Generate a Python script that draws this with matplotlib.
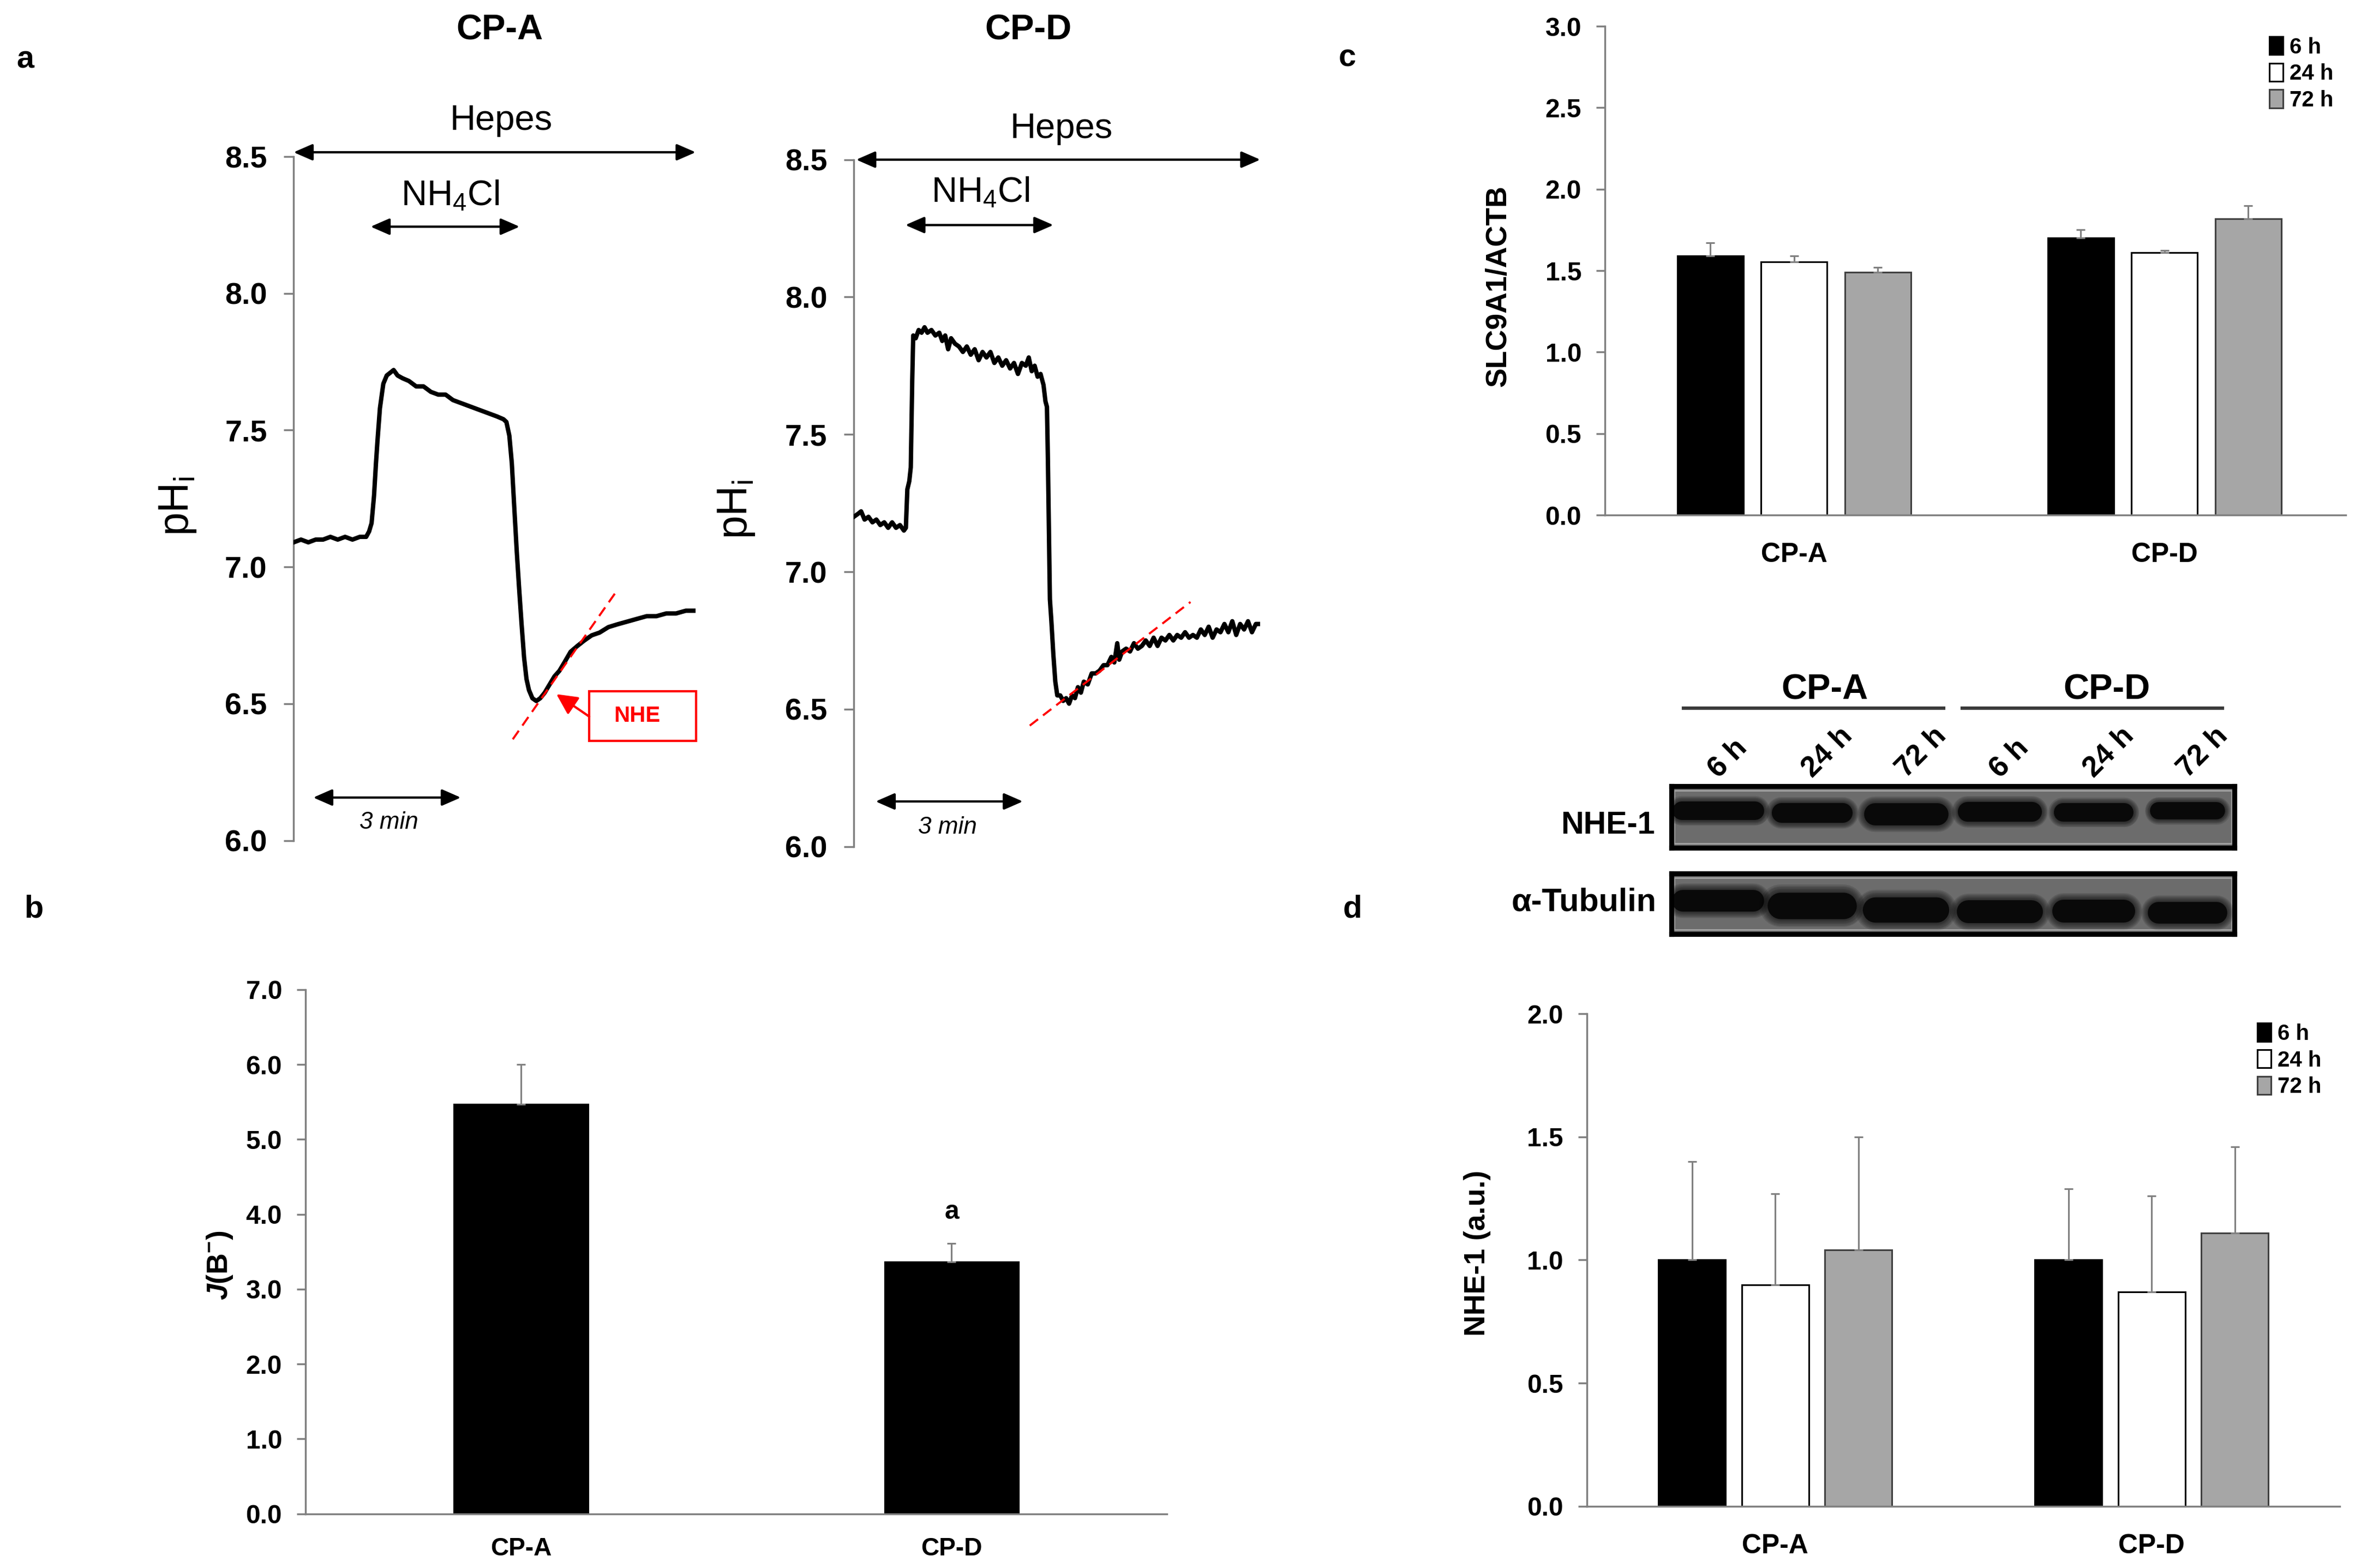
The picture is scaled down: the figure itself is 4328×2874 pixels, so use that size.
import numpy as np
import matplotlib
matplotlib.use('Agg')
import matplotlib.pyplot as plt
from matplotlib.patches import Rectangle
from matplotlib.lines import Line2D

plt.rcParams['font.family'] = ['Liberation Sans', 'DejaVu Sans']
plt.rcParams['mathtext.fontset'] = 'custom'
plt.rcParams['mathtext.rm'] = 'Liberation Sans'
plt.rcParams['mathtext.it'] = 'Liberation Sans:italic:bold'
plt.rcParams['mathtext.bf'] = 'Liberation Sans:bold'

# ---- panel a: pHi traces (time in min) ----
cpa_t = [0.00, 0.15, 0.30, 0.45, 0.60, 0.75, 0.90, 1.05, 1.20, 1.35,
         1.48, 1.54, 1.59, 1.64, 1.68, 1.71, 1.76, 1.83, 1.90, 1.97,
         2.04, 2.12, 2.22, 2.35, 2.50, 2.65, 2.80, 2.95, 3.10, 3.25,
         3.40, 3.55, 3.70, 3.85, 4.00, 4.15, 4.28, 4.34, 4.40, 4.45,
         4.50, 4.55, 4.60, 4.65, 4.70, 4.75, 4.80, 4.87, 4.95, 5.03,
         5.12, 5.22, 5.32, 5.42, 5.52, 5.65, 5.78, 5.92, 6.08, 6.24,
         6.42, 6.60, 6.80, 7.00, 7.20, 7.40, 7.60, 7.80, 8.00, 8.20]
cpa_ph = [7.09, 7.10, 7.09, 7.10, 7.10, 7.11, 7.10, 7.11, 7.10, 7.11,
          7.11, 7.13, 7.16, 7.26, 7.38, 7.46, 7.58, 7.67, 7.70, 7.71,
          7.72, 7.70, 7.69, 7.68, 7.66, 7.66, 7.64, 7.63, 7.63, 7.61,
          7.60, 7.59, 7.58, 7.57, 7.56, 7.55, 7.54, 7.53, 7.48, 7.38,
          7.22, 7.06, 6.92, 6.79, 6.67, 6.59, 6.55, 6.52, 6.51, 6.52,
          6.54, 6.57, 6.60, 6.62, 6.65, 6.69, 6.71, 6.73, 6.75, 6.76,
          6.78, 6.79, 6.80, 6.81, 6.82, 6.82, 6.83, 6.83, 6.84, 6.84]
cpa_fit_t = [4.47, 6.62]
cpa_fit_ph = [6.37, 6.92]

cpd_t = [0.00, 0.08, 0.15, 0.22, 0.30, 0.38, 0.46, 0.54, 0.62, 0.70,
         0.78, 0.86, 0.94, 1.02, 1.06, 1.09, 1.13, 1.16, 1.19, 1.21,
         1.26, 1.32, 1.38, 1.44, 1.50, 1.58, 1.66, 1.74, 1.80, 1.86,
         1.92, 1.98, 2.06, 2.14, 2.22, 2.30, 2.38, 2.46, 2.54, 2.62,
         2.70, 2.78, 2.86, 2.94, 3.02, 3.10, 3.18, 3.26, 3.34, 3.42,
         3.50, 3.56, 3.62, 3.68, 3.74, 3.80, 3.86, 3.90, 3.93, 3.95,
         3.97, 3.99, 4.02, 4.06, 4.10, 4.14, 4.20, 4.26, 4.32, 4.38,
         4.44, 4.50, 4.56, 4.62, 4.68, 4.76, 4.84, 4.92, 5.00, 5.08,
         5.16, 5.24, 5.30, 5.36, 5.40, 5.46, 5.54, 5.62, 5.70, 5.78,
         5.86, 5.94, 6.02, 6.10, 6.18, 6.26, 6.34, 6.42, 6.50, 6.58,
         6.66, 6.74, 6.82, 6.90, 6.98, 7.06, 7.14, 7.22, 7.30, 7.38,
         7.46, 7.54, 7.62, 7.70, 7.78, 7.86, 7.94, 8.02, 8.10, 8.18,
         8.27]
cpd_ph = [7.20, 7.21, 7.22, 7.19, 7.20, 7.18, 7.19, 7.17, 7.18, 7.16,
          7.18, 7.16, 7.17, 7.15, 7.16, 7.30, 7.33, 7.38, 7.70, 7.86,
          7.85, 7.88, 7.87, 7.89, 7.87, 7.88, 7.86, 7.87, 7.84, 7.86,
          7.81, 7.85, 7.83, 7.82, 7.80, 7.82, 7.79, 7.81, 7.77, 7.80,
          7.78, 7.80, 7.76, 7.78, 7.75, 7.77, 7.74, 7.76, 7.72, 7.76,
          7.75, 7.78, 7.73, 7.75, 7.71, 7.72, 7.68, 7.62, 7.60, 7.40,
          7.15, 6.90, 6.82, 6.70, 6.60, 6.55, 6.55, 6.53, 6.54, 6.52,
          6.55, 6.54, 6.58, 6.56, 6.60, 6.59, 6.63, 6.63, 6.64, 6.66,
          6.66, 6.69, 6.67, 6.74, 6.68, 6.71, 6.72, 6.71, 6.74, 6.72,
          6.73, 6.75, 6.73, 6.76, 6.73, 6.76, 6.75, 6.77, 6.75, 6.77,
          6.76, 6.78, 6.76, 6.77, 6.76, 6.79, 6.77, 6.80, 6.76, 6.79,
          6.78, 6.81, 6.78, 6.82, 6.77, 6.81, 6.79, 6.82, 6.78, 6.81,
          6.81]
cpd_fit_t = [3.58, 6.85]
cpd_fit_ph = [6.44, 6.89]

# ---- panel b ----
b_groups = ['CP-A', 'CP-D']
b_vals = [5.47, 3.36]
b_err = [0.53, 0.25]

# ---- panel c / d ----
times = ['6 h', '24 h', '72 h']
groups = ['CP-A', 'CP-D']
c_vals = [[1.59, 1.70], [1.555, 1.61], [1.49, 1.82]]
c_err = [[0.08, 0.05], [0.035, 0.015], [0.03, 0.08]]
d_vals = [[1.00, 1.00], [0.90, 0.87], [1.04, 1.11]]
d_err = [[0.40, 0.29], [0.37, 0.39], [0.46, 0.35]]

# ---- western blot bands (per lane) ----
nhe_y = [0.60, 0.57, 0.55, 0.59, 0.58, 0.60]
nhe_h = [0.30, 0.32, 0.36, 0.32, 0.30, 0.28]
nhe_w = [0.98, 0.86, 0.90, 0.90, 0.85, 0.80]
tub_y = [0.55, 0.47, 0.40, 0.37, 0.38, 0.35]
tub_h = [0.36, 0.44, 0.42, 0.38, 0.38, 0.36]
tub_w = [0.98, 0.95, 0.92, 0.92, 0.88, 0.85]

bar_colors = ['black', 'white', '#a6a6a6']
bar_edges = ['black', 'black', '#404040']
axis_gray = '#808080'

W, H = 1568.0, 1041.0
fig = plt.figure(figsize=(4328 / 276, 2874 / 276), dpi=276)


def fx(x):
    return x / W


def fy(y):
    return 1 - y / H


def add_ax(l, t, r, b):
    return fig.add_axes([l / W, 1 - b / H, (r - l) / W, (b - t) / H])


def trace_panel(l, t, r, b, tt, ph, fit_t, fit_ph, xmax):
    ax = add_ax(l, t, r, b)
    ax.plot(tt, ph, color='black', lw=2.1, solid_joinstyle='round', zorder=3)
    ax.plot(fit_t, fit_ph, color='red', lw=1.0, ls=(0, (5, 3)), zorder=4)
    ax.set_xlim(0, xmax)
    ax.set_ylim(6.0, 8.5)
    for s in ['top', 'right', 'bottom']:
        ax.spines[s].set_visible(False)
    ax.spines['left'].set_color(axis_gray)
    ax.spines['left'].set_linewidth(0.9)
    ax.set_xticks([])
    yt = [6.0, 6.5, 7.0, 7.5, 8.0, 8.5]
    ax.set_yticks(yt, labels=[f'{v:.1f}' for v in yt], fontweight='bold', fontsize=14.5)
    ax.tick_params(axis='y', direction='out', length=4.7, width=0.9, color=axis_gray, pad=8)
    ax.patch.set_alpha(0)
    return ax


def darrow(ax, x0, x1, y):
    ax.annotate('', xy=(x1, y), xytext=(x0, y),
                arrowprops=dict(arrowstyle='<|-|>,head_length=0.55,head_width=0.24',
                                color='black', lw=1.1, mutation_scale=14,
                                shrinkA=0, shrinkB=0),
                annotation_clip=False)


# panel a, CP-A
axA = trace_panel(195, 104, 462, 558, cpa_t, cpa_ph, cpa_fit_t, cpa_fit_ph, 8.2)
darrow(axA, 0.0, 8.2, 8.516)
axA.text(4.23, 8.632, 'Hepes', ha='center', va='center', fontsize=17, clip_on=False)
darrow(axA, 1.57, 4.61, 8.244)
axA.text(3.19, 8.357, 'NH$_\\mathregular{4}$Cl', ha='center', va='center', fontsize=17, clip_on=False)
darrow(axA, 0.40, 3.41, 6.157)
axA.text(1.94, 6.066, '3 min', ha='center', va='center', fontsize=11.5, style='italic')
axA.add_patch(Rectangle((6.03, 6.364), 2.18, 0.181, fill=False, ec='red', lw=1.1, clip_on=False))
axA.text(7.0, 6.455, 'NHE', ha='center', va='center', fontsize=10.5, fontweight='bold', color='red')
axA.annotate('', xy=(5.36, 6.535), xytext=(6.03, 6.453),
             arrowprops=dict(arrowstyle='-|>,head_length=0.6,head_width=0.3', color='red',
                             lw=1.1, mutation_scale=14, shrinkA=0, shrinkB=0),
             annotation_clip=False)
fig.text(fx(332), fy(20), 'CP-A', ha='center', va='center', fontsize=17, fontweight='bold')
fig.text(fx(118), fy(336), 'pH$_\\mathregular{i}$', rotation=90, ha='center', va='center', fontsize=20)

# panel a, CP-D
axD = trace_panel(567, 106, 837, 562, cpd_t, cpd_ph, cpd_fit_t, cpd_fit_ph, 8.27)
darrow(axD, 0.05, 8.27, 8.5)
axD.text(4.23, 8.612, 'Hepes', ha='center', va='center', fontsize=17, clip_on=False)
darrow(axD, 1.05, 4.06, 8.262)
axD.text(2.58, 8.379, 'NH$_\\mathregular{4}$Cl', ha='center', va='center', fontsize=17, clip_on=False)
darrow(axD, 0.445, 3.44, 6.164)
axD.text(1.91, 6.07, '3 min', ha='center', va='center', fontsize=11.5, style='italic')
fig.text(fx(683), fy(20), 'CP-D', ha='center', va='center', fontsize=17, fontweight='bold')
fig.text(fx(489), fy(338), 'pH$_\\mathregular{i}$', rotation=90, ha='center', va='center', fontsize=20)


def bar_style(ax, ymax, step, xlabel_size, xpad):
    for s in ['top', 'right']:
        ax.spines[s].set_visible(False)
    for s in ['left', 'bottom']:
        ax.spines[s].set_color(axis_gray)
        ax.spines[s].set_linewidth(0.9)
    yt = np.arange(0, ymax + step / 2, step)
    ax.set_ylim(0, ymax)
    ax.set_xlim(0, 2)
    ax.set_yticks(yt, labels=[f'{v:.1f}' for v in yt], fontweight='bold', fontsize=12.5)
    ax.tick_params(axis='y', direction='out', length=4.3, width=0.9, color=axis_gray, pad=7)
    ax.set_xticks([0.5, 1.5], labels=groups, fontweight='bold', fontsize=xlabel_size)
    ax.tick_params(axis='x', length=0, pad=xpad)
    ax.patch.set_alpha(0)


# panel b
axB = add_ax(203, 657, 775, 1005)
xb = np.array([0.5, 1.5])
axB.bar(xb, b_vals, width=0.311, color='black', edgecolor='black', lw=0.8, zorder=2)
axB.errorbar(xb, b_vals, yerr=[np.zeros(2), b_err], fmt='none', ecolor=axis_gray,
             elinewidth=0.8, capsize=2, capthick=0.8, zorder=3)
bar_style(axB, 7.0, 1.0, 12, 11)
axB.text(1.5, 4.03, 'a', ha='center', va='center', fontsize=12.5, fontweight='bold')
fig.text(fx(146), fy(840), '$\\it{J}$(B$^{\\mathregular{-}}$)', rotation=90, ha='center',
         va='center', fontsize=14, fontweight='bold')


def grouped(ax, vals, errs, off, width):
    xg = np.array([0.5, 1.5])
    handles = []
    for k in range(3):
        hb = ax.bar(xg + (k - 1) * off, vals[k], width=width, color=bar_colors[k],
                    edgecolor=bar_edges[k], lw=0.8, label=times[k], zorder=2)
        ax.errorbar(xg + (k - 1) * off, vals[k], yerr=[np.zeros(2), errs[k]], fmt='none',
                    ecolor=axis_gray, elinewidth=0.8, capsize=2, capthick=0.8, zorder=3)
        handles.append(hb)
    return handles


# panel c
axC = add_ax(1066, 17.4, 1558, 342)
hc = grouped(axC, c_vals, c_err, 0.226, 0.178)
bar_style(axC, 3.0, 0.5, 13, 13)
axC.set_xlim(-0.01, 1.99)
fig.text(fx(995), fy(190), 'SLC9A1/ACTB', rotation=90, ha='center', va='center',
         fontsize=14, fontweight='bold')
axC.legend(handles=hc, loc='upper left', bbox_to_anchor=(fx(1500), fy(17)),
           bbox_transform=fig.transFigure, frameon=False, borderpad=0,
           handlelength=0.62, handleheight=0.9, handletextpad=0.3, labelspacing=0.25,
           prop={'weight': 'bold', 'size': 10.5})

# panel d
axDd = add_ax(1054, 673, 1554, 1000)
hd = grouped(axDd, d_vals, d_err, 0.221, 0.178)
bar_style(axDd, 2.0, 0.5, 13, 13)
fig.text(fx(981), fy(832), 'NHE-1 (a.u.)', rotation=90, ha='center', va='center',
         fontsize=14, fontweight='bold')
axDd.legend(handles=hd, loc='upper left', bbox_to_anchor=(fx(1492), fy(672)),
            bbox_transform=fig.transFigure, frameon=False, borderpad=0,
            handlelength=0.62, handleheight=0.9, handletextpad=0.3, labelspacing=0.25,
            prop={'weight': 'bold', 'size': 10.5})


# western blot
def blot(l, t, r, b, ys, hs, ws):
    ax = add_ax(l, t, r, b)
    ax.set_xlim(0, 6)
    ax.set_ylim(0, 1)
    ax.set_facecolor('#6c6c6c')
    ax.set_xticks([])
    ax.set_yticks([])
    for s in ax.spines.values():
        s.set_color('black')
        s.set_linewidth(2.4)
    ax.add_patch(Rectangle((0.03, 0.07), 5.94, 0.86, fill=False, ec='#a4a4a4', lw=0.7))
    ax_h_pt = (b - t) / (100 / 72)
    px_per_unit = (r - l) / 6
    for i in range(6):
        lw = hs[i] * ax_h_pt
        cap = (lw / 2) * (100 / 72) / px_per_unit
        x0 = i + 0.5 - ws[i] / 2 + cap
        x1 = i + 0.5 + ws[i] / 2 - cap
        for scale in [1.6, 1.5, 1.4, 1.3, 1.2, 1.1]:
            ax.plot([x0, x1], [ys[i], ys[i]], color='#050505', lw=lw * scale,
                    solid_capstyle='round', alpha=0.13)
        ax.plot([x0, x1], [ys[i], ys[i]], color='#050505', lw=lw,
                solid_capstyle='round', alpha=0.9)
    return ax


blot(1110, 522, 1484, 563, nhe_y, nhe_h, nhe_w)
blot(1110, 580, 1484, 620, tub_y, tub_h, tub_w)
fig.text(fx(1099), fy(548), 'NHE-1', ha='right', va='center', fontsize=15, fontweight='bold')
fig.text(fx(1100), fy(599), 'α-Tubulin', ha='right', va='center', fontsize=15.5, fontweight='bold')
fig.text(fx(1212), fy(458), 'CP-A', ha='center', va='center', fontsize=17, fontweight='bold')
fig.text(fx(1399), fy(458), 'CP-D', ha='center', va='center', fontsize=17, fontweight='bold')
fig.add_artist(Line2D([fx(1118), fx(1291)], [fy(470), fy(470)], color='#3a3a3a', lw=1.6))
fig.add_artist(Line2D([fx(1303), fx(1476)], [fy(470), fy(470)], color='#3a3a3a', lw=1.6))
for i in range(6):
    lane_x = 1110 + 374 * (i + 0.5) / 6
    fig.text(fx(lane_x), fy(517), times[i % 3], rotation=45, rotation_mode='anchor',
             ha='left', va='baseline', fontsize=14, fontweight='bold')

# panel letters
fig.text(fx(11), fy(45), 'a', fontsize=15, fontweight='bold')
fig.text(fx(16), fy(609), 'b', fontsize=15, fontweight='bold')
fig.text(fx(889), fy(44), 'c', fontsize=15, fontweight='bold')
fig.text(fx(892), fy(609), 'd', fontsize=15, fontweight='bold')

fig.savefig('out.png', dpi=276)
